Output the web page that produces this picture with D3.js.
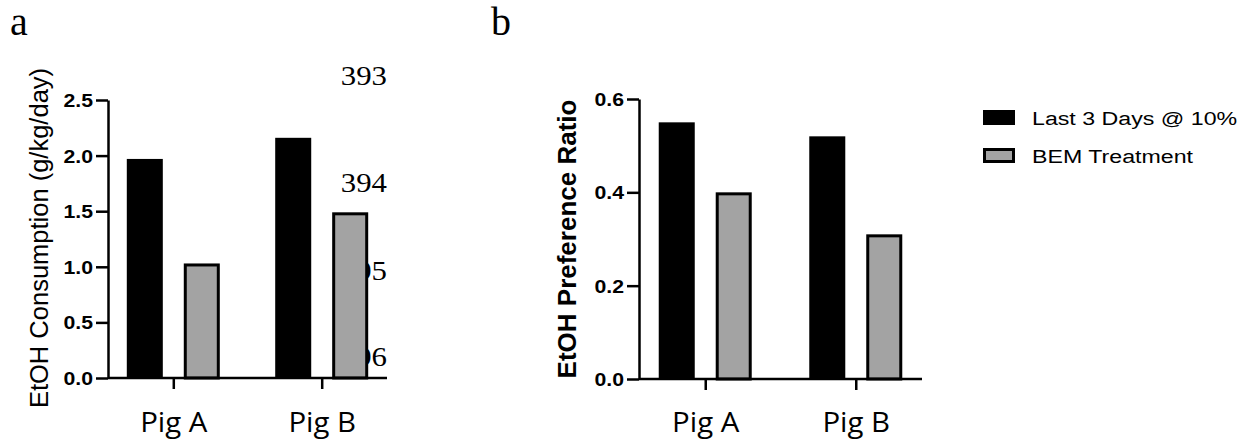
<!DOCTYPE html>
<html>
<head>
<meta charset="utf-8">
<script src="https://cdn.jsdelivr.net/npm/d3@7"></script>
<style>
  html, body { margin: 0; padding: 0; background: #fff; }
  svg { display: block; }
</style>
</head>
<body>
<div id="chart"></div>
<script>
const groups = ['Pig A', 'Pig B']
const seriesNames = ['Last 3 Days @ 10%', 'BEM Treatment']
const consumptionLast3 = [1.97, 2.16]
const consumptionBEM = [1.03, 1.49]
const preferenceLast3 = [0.55, 0.52]
const preferenceBEM = [0.40, 0.31]
const consumptionTicks = [0, 0.5, 1.0, 1.5, 2.0, 2.5]
const preferenceTicks = [0, 0.2, 0.4, 0.6]
const lineNumbers = ['393', '394', '395', '396']

const W = 1257, H = 447
const GRAY = '#a3a3a3'
const SANS = '"Liberation Sans", Arial, sans-serif'
const SERIF = '"Liberation Serif", "Times New Roman", serif'
const PIG_FONT = '"Open Sans", "Noto Sans", sans-serif'

const svg = d3.select('#chart').append('svg')
  .attr('width', W)
  .attr('height', H)

// horizontally stretched text (the figure is a bit wider than tall)
function stretchText(sel, x, y, sx) {
  sel.attr('x', x / sx).attr('y', y).attr('transform', `scale(${sx},1)`)
}

const subScale = d3.scaleBand()
  .domain(seriesNames)
  .range([-46.5, 46.5])
  .paddingInner(0.368)

function drawPanel(cfg) {
  const g = svg.append('g')

  const y = d3.scaleLinear().domain(cfg.domain).range([cfg.yBottom, cfg.yTop])
  const x = d3.scalePoint().domain(groups).range([cfg.x0, cfg.x1]).padding(0.44)

  const rows = groups.flatMap((grp, i) => cfg.values.map((vals, s) => ({
    group: grp, series: seriesNames[s], value: vals[i], s
  })))

  const bw = subScale.bandwidth()

  // bars
  g.selectAll('rect.bar')
    .data(rows)
    .join('rect')
    .attr('class', 'bar')
    .attr('x', d => x(d.group) + subScale(d.series) + (d.s ? 1.5 : 0))
    .attr('y', d => y(d.value) + (d.s ? 1.5 : 0))
    .attr('width', d => bw - (d.s ? 3 : 0))
    .attr('height', d => y(0) - y(d.value) - (d.s ? 1.5 : 0))
    .attr('fill', d => d.s ? GRAY : '#000')
    .attr('stroke', d => d.s ? '#000' : 'none')
    .attr('stroke-width', 3)

  // y axis
  const yAxis = g.append('g')
    .attr('transform', `translate(${cfg.x0},0)`)
    .call(d3.axisLeft(y).tickValues(cfg.ticks).tickFormat(d3.format('.1f'))
      .tickSize(12).tickSizeOuter(0))
  yAxis.select('.domain').attr('stroke-width', 2.5)
  yAxis.selectAll('.tick line').attr('stroke-width', 2.5)
  yAxis.selectAll('.tick text')
    .attr('font-family', SANS)
    .attr('font-weight', 'bold')
    .attr('font-size', 18)
    .attr('fill', '#000')
    .attr('dy', '0.36em')
    .each(function () { stretchText(d3.select(this), -15, 0, 1.18) })

  // x axis
  const xAxis = g.append('g')
    .attr('transform', `translate(0,${y(0)})`)
    .call(d3.axisBottom(x).tickSize(11).tickSizeOuter(0))
  xAxis.select('.domain')
    .attr('d', `M${cfg.x0},0H${cfg.x1}`)
    .attr('stroke-width', 2.5)
  xAxis.selectAll('.tick line').attr('stroke-width', 2.5)
  xAxis.selectAll('.tick text')
    .attr('font-family', PIG_FONT)
    .attr('font-size', 28)
    .attr('fill', '#000')
    .attr('dy', null)
    .each(function () { stretchText(d3.select(this), 0, 432 - y(0), 1.05) })

  // y title
  g.append('text')
    .attr('transform', `translate(${cfg.titleX},${cfg.titleY}) rotate(-90)`)
    .attr('text-anchor', 'middle')
    .attr('font-family', SANS)
    .attr('font-size', cfg.titleSize)
    .attr('font-weight', cfg.titleWeight)
    .attr('fill', '#000')
    .text(cfg.title)

  // panel letter
  svg.append('text')
    .attr('x', cfg.letterX)
    .attr('y', 35)
    .attr('font-family', SERIF)
    .attr('font-size', 40)
    .attr('fill', '#000')
    .text(cfg.letter)

  return g
}

// manuscript line numbers bleeding into panel a (drawn under the bars)
const lineNumberY = [85, 192, 280, 366]
const numG = svg.append('g')
numG.selectAll('text')
  .data(lineNumbers)
  .join('text')
  .attr('text-anchor', 'end')
  .attr('font-family', SERIF)
  .attr('font-size', 28)
  .attr('fill', '#000')
  .text(d => d)
  .each(function (d, i) { stretchText(d3.select(this), 387, lineNumberY[i], 1.1) })

drawPanel({
  letter: 'a', letterX: 10,
  x0: 108, x1: 387, yTop: 100, yBottom: 378,
  domain: [0, 2.5], ticks: consumptionTicks,
  values: [consumptionLast3, consumptionBEM],
  title: 'EtOH Consumption (g/kg/day)', titleWeight: 'normal', titleSize: 25.5,
  titleX: 48, titleY: 238
})

drawPanel({
  letter: 'b', letterX: 491,
  x0: 639, x1: 922, yTop: 99, yBottom: 379,
  domain: [0, 0.6], ticks: preferenceTicks,
  values: [preferenceLast3, preferenceBEM],
  title: 'EtOH Preference Ratio', titleWeight: 'bold', titleSize: 26,
  titleX: 576, titleY: 239
})

// legend
const legend = svg.append('g')
const legendY = [110, 148]
legend.selectAll('rect')
  .data(seriesNames)
  .join('rect')
  .attr('x', (d, i) => i ? 984.5 : 983)
  .attr('y', (d, i) => legendY[i] + (i ? 1.5 : 0))
  .attr('width', (d, i) => i ? 29 : 32)
  .attr('height', (d, i) => i ? 12 : 15)
  .attr('fill', (d, i) => i ? GRAY : '#000')
  .attr('stroke', (d, i) => i ? '#000' : 'none')
  .attr('stroke-width', 3)
legend.selectAll('text')
  .data(seriesNames)
  .join('text')
  .attr('font-family', SANS)
  .attr('font-size', 19)
  .attr('fill', '#000')
  .text(d => d)
  .each(function (d, i) { stretchText(d3.select(this), 1032, legendY[i] + 15, 1.22) })
</script>
</body>
</html>
